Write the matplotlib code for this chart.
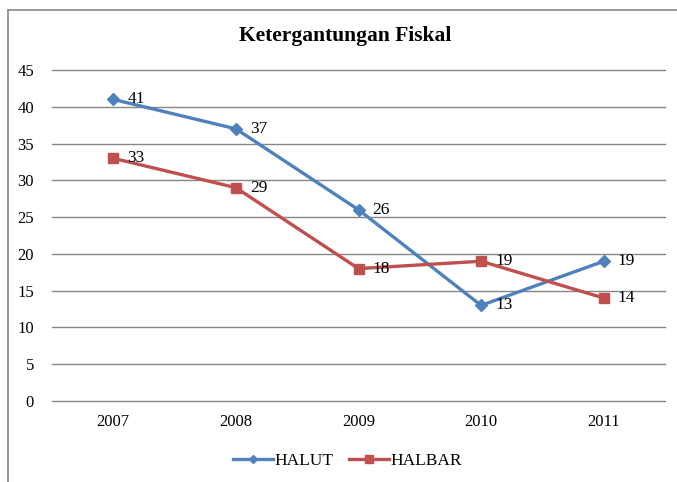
import matplotlib.pyplot as plt
from matplotlib.lines import Line2D

# data
years = ['2007', '2008', '2009', '2010', '2011']
halut = [41, 37, 26, 13, 19]
halbar = [33, 29, 18, 19, 14]

plt.rcParams['font.family'] = ['Liberation Serif', 'DejaVu Serif']

fig = plt.figure(figsize=(6.77, 4.82), dpi=100)
ax = fig.add_axes([52 / 677, 1 - 401 / 482, 613 / 677, 331 / 482])

x = list(range(len(years)))
ax.plot(x, halut, color='#4F81BD', lw=2.4, marker='D', markersize=6.5, label='HALUT')
ax.plot(x, halbar, color='#C0504D', lw=2.4, marker='s', markersize=7.5, label='HALBAR')

# value labels to the right of each point
for xi, v in zip(x, halut):
    ax.annotate(str(v), (xi, v), xytext=(10, 0), textcoords='offset points',
                ha='left', va='center', fontsize=12.5)
for xi, v in zip(x, halbar):
    ax.annotate(str(v), (xi, v), xytext=(10, 0), textcoords='offset points',
                ha='left', va='center', fontsize=12.5)

ax.set_xlim(-0.5, len(years) - 0.5)
ax.set_ylim(0, 45)
ax.set_yticks(range(0, 46, 5))
ax.set_xticks(x)
ax.set_xticklabels(years)
ax.tick_params(length=0, labelsize=12)
ax.tick_params(axis='y', pad=13)
ax.tick_params(axis='x', pad=9)
ax.yaxis.grid(True, color='#868686', lw=1)
for gl in ax.get_ygridlines():
    gl.set_clip_on(False)
ax.set_axisbelow(True)
for s in ax.spines.values():
    s.set_visible(False)

fig.text(345 / 677, 1 - 36 / 482, 'Ketergantungan Fiskal', ha='center', va='center',
         fontsize=15.5, fontweight='bold')

ax.legend(loc='center', bbox_to_anchor=(0.482, -0.182), ncol=2, frameon=False,
          fontsize=12.5, handlelength=2.3, columnspacing=0.9, handletextpad=0.1,
          markerscale=0.7)

# outer frame (only left and top visible in the crop)
fig.add_artist(Line2D([8 / 677, 8 / 677], [0, 1 - 10 / 482], color='#888888', lw=1.2,
                      transform=fig.transFigure))
fig.add_artist(Line2D([8 / 677, 1], [1 - 10 / 482, 1 - 10 / 482], color='#888888', lw=1.2,
                      transform=fig.transFigure))

fig.savefig('out.png', dpi=100)
